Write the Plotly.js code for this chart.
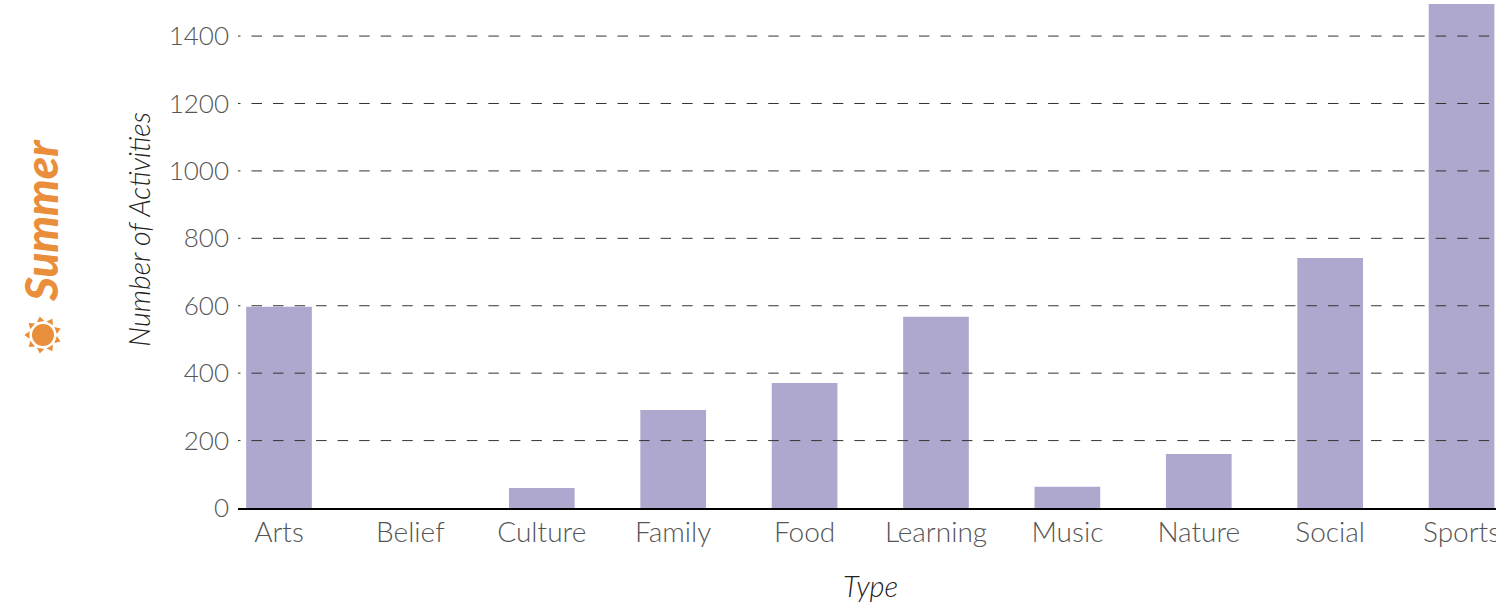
<!DOCTYPE html>
<html><head><meta charset="utf-8">
<script src="https://cdn.plot.ly/plotly-3.0.0.min.js"></script>
<style>html,body{margin:0;padding:0;background:#fff;overflow:hidden}</style>
</head><body><div id="chart" style="width:1496px;height:606px"></div>
<script>
const categories=["Arts","Belief","Culture","Family","Food","Learning","Music","Nature","Social","Sports"];
const activityCounts=[597,0,59,291,371,567,63,160,742,1495];
const yTicks=[0,200,400,600,800,1000,1200,1400];
const gridTicks=[200,400,600,800,1000,1200,1400];
const FONT='Lato, "Open Sans", sans-serif';
const ORANGE='#E98E3A';
const gridShapes=gridTicks.map(v=>({type:'line',layer:'above',xref:'x',yref:'y',x0:-0.373,x1:9.262,y0:v,y1:v,
  line:{color:'#333333',width:1,dash:'10.5px,11.03px'}}));
// Sun icon beside the "Summer" label: a disc and nine triangular rays, placed in paper space.
const W=1258,H=508,CX=43,CY=335;
const px=(r,a)=>((CX+r*Math.cos(a))-238)/W;
const py=(r,a)=>(H-(CY-r*Math.sin(a)))/H;
const sunShapes=[{type:'circle',xref:'paper',yref:'paper',x0:px(11,Math.PI),x1:px(11,0),y0:py(11,-Math.PI/2),y1:py(11,Math.PI/2),
  fillcolor:ORANGE,line:{width:0}}];
for(let i=0;i<9;i++){
  const a=(20+40*i)*Math.PI/180,d=0.27;
  sunShapes.push({type:'path',xref:'paper',yref:'paper',fillcolor:ORANGE,line:{width:0},
    path:`M${px(18.7,a)},${py(18.7,a)} L${px(14,a-d)},${py(14,a-d)} L${px(14,a+d)},${py(14,a+d)} Z`});
}
Plotly.newPlot('chart',[{type:'bar',x:categories,y:activityCounts,width:0.5,marker:{color:'#AEA7CE',line:{width:0}},hoverinfo:'x+y'}],{
  width:1496,height:606,paper_bgcolor:'#fff',plot_bgcolor:'#fff',showlegend:false,
  margin:{l:238,r:0,t:0,b:98,pad:0},
  font:{family:FONT},
  xaxis:{type:'category',categories:categories,categoryorder:'array',categoryarray:categories,range:[-0.312,9.262],
    showgrid:false,showline:true,linecolor:'#000',linewidth:2,ticks:'',zeroline:false,automargin:false,
    tickfont:{family:FONT,size:28,color:'#555555',weight:300},ticklabelstandoff:-2},
  yaxis:{range:[0,1507],tickvals:yTicks,ticktext:yTicks.map(String),showgrid:false,zeroline:false,showline:false,ticks:'',automargin:false,
    tickfont:{family:FONT,size:26,color:'#555555',weight:300},ticklabelstandoff:8},
  shapes:gridShapes.concat(sunShapes),
  annotations:[
    {xref:'paper',yref:'paper',x:0.503,y:-0.1516,xanchor:'center',yanchor:'middle',showarrow:false,
     text:'<i>Type</i>',font:{family:FONT,size:29,color:'#222',weight:300}},
    {xref:'paper',yref:'paper',x:-0.079,y:0.549,xanchor:'center',yanchor:'middle',textangle:-90,showarrow:false,
     text:'<i>Number of Activities</i>',font:{family:FONT,size:28.5,color:'#222',weight:300}},
    {xref:'paper',yref:'paper',x:-0.1565,y:0.565,xanchor:'center',yanchor:'middle',textangle:-90,showarrow:false,
     text:'<i>Summer</i>',font:{family:FONT,size:46,color:ORANGE,weight:900}}
  ]
},{displayModeBar:false,staticPlot:true});
</script></body></html>
